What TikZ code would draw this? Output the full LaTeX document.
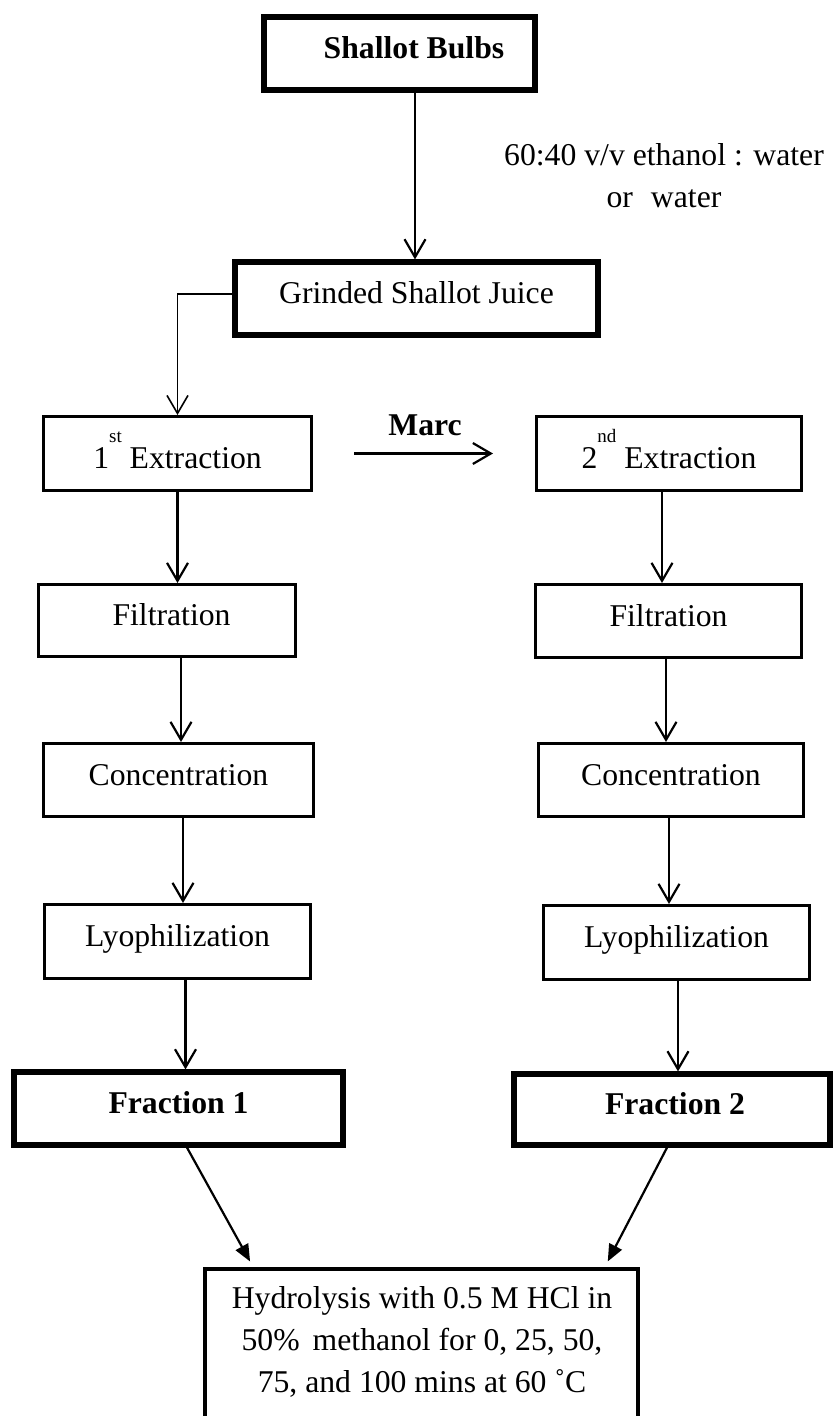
\documentclass[tikz,border=0pt]{standalone}
\usepackage{fontspec}
\setmainfont{Liberation Serif}
\usetikzlibrary{arrows.meta}
\newcommand\supx[1]{\raisebox{0.79em}[0pt][0pt]{\fontsize{19}{19}\selectfont #1}}
\begin{document}
\begin{tikzpicture}[x=1pt,y=-1pt,
  every node/.style={font=\fontsize{31.7}{42}\selectfont, inner sep=0pt},
  thinbox/.style={draw, line width=3pt, text height=22pt, text depth=12pt},
  thickbox/.style={draw, line width=5.2pt, text height=22pt, text depth=12pt},
  extrbox/.style={thinbox, text height=41pt, text depth=12pt},
  arr/.style={line width=2.2pt, -{Straight Barb[length=18pt,width=21pt]}},
  farr/.style={line width=2.2pt, -{Triangle[length=17pt,width=14pt]}}]
\useasboundingbox (0,0) rectangle (833,1416);

% boxes
\node[thickbox, minimum width=271pt, minimum height=73pt] (sb) at (399.5,53.5) {\hspace*{29pt}\textbf{Shallot Bulbs}};
\node[thickbox, minimum width=363pt, minimum height=73pt] (g) at (416.5,298.5) {Grinded Shallot Juice};
\node[extrbox, minimum width=268pt, minimum height=74pt] (e1) at (177.5,453.5) {1\supx{st} Extraction};
\node[extrbox, minimum width=265pt, minimum height=74pt] (e2) at (669,453.5) {2\supx{nd} Extraction};
\node[thinbox, minimum width=257pt, minimum height=72pt] (f1) at (167,620.5) {\hspace*{9pt}Filtration};
\node[thinbox, minimum width=266pt, minimum height=73pt] (f2) at (668.5,621) {Filtration};
\node[thinbox, minimum width=270pt, minimum height=73pt] (c1) at (178.5,780) {Concentration};
\node[thinbox, minimum width=265pt, minimum height=73pt] (c2) at (671,780) {Concentration};
\node[thinbox, minimum width=266pt, minimum height=74pt] (l1) at (177.5,941.5) {Lyophilization};
\node[thinbox, minimum width=266pt, minimum height=74pt] (l2) at (676.5,942.5) {Lyophilization};
\node[thickbox, minimum width=329pt, minimum height=73pt] (fr1) at (178.5,1108.5) {\textbf{Fraction 1}};
\node[thickbox, minimum width=316pt, minimum height=71pt] (fr2) at (672,1109.5) {\hspace*{6pt}\textbf{Fraction 2}};
\node[draw, line width=4.5pt, minimum width=433pt, minimum height=171pt] (h) at (421.5,1354.5) {};

% texts
\node[anchor=north, align=center] (solv) at (664,143.3) {60:40 v/v ethanol : water\\or\hspace{18pt}water};
\node[anchor=base, font=\fontsize{31.7}{42}\selectfont\bfseries] (marc) at (425,435) {Marc};
\node[anchor=north, align=center] (htext) at (422,1286.3) {Hydrolysis with 0.5 M HCl in\\50\%\hspace{13pt}methanol for 0, 25, 50,\\75, and 100 mins at 60 ˚C};

% column coordinates
\coordinate (xa) at (415,0);
\coordinate (xb) at (177.5,0);
\coordinate (xc) at (181,0);
\coordinate (xd) at (183,0);
\coordinate (xe) at (185.5,0);
\coordinate (xf) at (662,0);
\coordinate (xg) at (666,0);
\coordinate (xh) at (669,0);
\coordinate (xi) at (678,0);
\coordinate (ya) at (0,294);
\coordinate (p1) at (187,0);
\coordinate (p2) at (253,0);
\coordinate (p3) at (667,0);
\coordinate (p4) at (605,0);

% connectors
\draw[arr] (sb.south -| xa) -- (g.north -| xa);
\draw[arr, line width=1.6pt] (g.west |- ya) -| (e1.north -| xb);
\draw[arr, shorten <=41pt, shorten >=42pt] (e1.east) -- (e2.west);
\draw[arr] (e1.south -| xb) -- (f1.north -| xb);
\draw[arr] (f1.south -| xc) -- (c1.north -| xc);
\draw[arr] (c1.south -| xd) -- (l1.north -| xd);
\draw[arr] (l1.south -| xe) -- (fr1.north -| xe);
\draw[arr] (e2.south -| xf) -- (f2.north -| xf);
\draw[arr] (f2.south -| xg) -- (c2.north -| xg);
\draw[arr] (c2.south -| xh) -- (l2.north -| xh);
\draw[arr] (l2.south -| xi) -- (fr2.north -| xi);
\draw[farr, shorten >=6pt] (fr1.south -| p1) -- (h.north -| p2);
\draw[farr, shorten >=6pt] (fr2.south -| p3) -- (h.north -| p4);
\end{tikzpicture}
\end{document}
